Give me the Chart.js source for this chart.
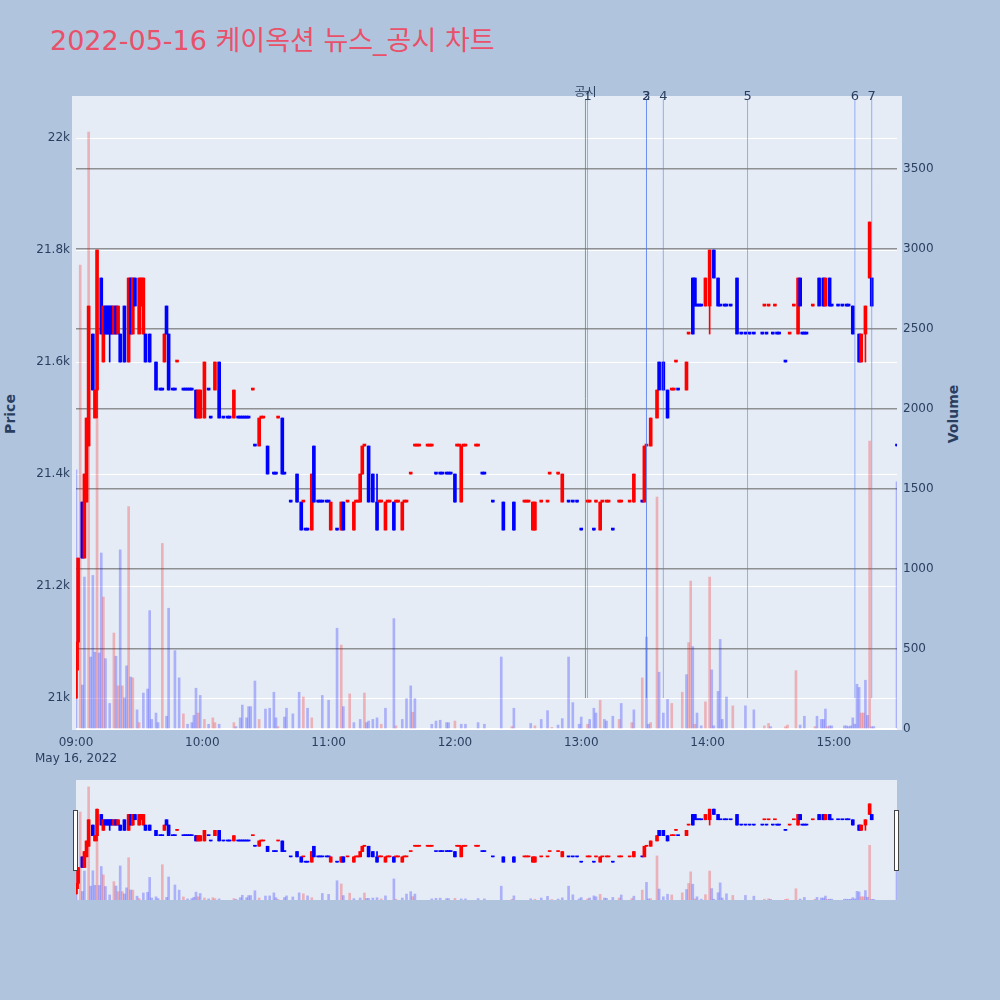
<!DOCTYPE html>
<html lang="ko">
<head>
<meta charset="utf-8">
<title>2022-05-16 케이옥션 뉴스_공시 차트</title>
<script src="https://cdn.jsdelivr.net/npm/chart.js@4.4.1/dist/chart.umd.min.js"></script>
<style>
  html, body { margin: 0; padding: 0; }
  body { width: 1000px; height: 1000px; background: #b0c4de; position: relative; overflow: hidden;
         font-family: "DejaVu Sans", "Noto Sans CJK KR", sans-serif; color: #2a3f5f; }
  #title { position: absolute; left: 50px; top: 27px; font-size: 27px; line-height: 27px; color: #e9506a; white-space: nowrap; }
  .ytitle { position: absolute; font-size: 14px; font-weight: bold; white-space: nowrap; transform: translate(-50%, -50%) rotate(-90deg); }
  #mainChart { position: absolute; left: 0; top: 0; }
  #rangeChart { position: absolute; left: 0; top: 780px; }
</style>
</head>
<body>
<div id="title">2022-05-16 케이옥션 뉴스_공시 차트</div>
<div class="ytitle" style="left:10px; top:414px;">Price</div>
<div class="ytitle" style="left:953px; top:414px;">Volume</div>
<canvas id="mainChart" width="1000" height="780"></canvas>
<canvas id="rangeChart" width="1000" height="120"></canvas>
<script>
// ---- 분봉 (minutes after 09:00) ----
const candleMin = [
  0, 1, 3, 4, 5, 6, 8, 9, 10, 12,
  13, 14, 15, 16, 17, 18, 19, 20, 21, 23,
  25, 26, 27, 28, 30, 31, 32, 33, 35, 38,
  40, 41, 42, 43, 44, 46, 47, 48, 51, 52,
  53, 54, 55, 57, 58, 59, 61, 63, 64, 66,
  68, 70, 72, 73, 75, 77, 78, 79, 80, 81,
  82, 84, 85, 87, 88, 89, 91, 94, 95, 96,
  98, 99, 102, 105, 107, 108, 109, 110, 112, 113,
  115, 116, 117, 119, 120, 121, 124, 126, 127, 129,
  132, 133, 134, 135, 136, 137, 139, 141, 143, 144,
  145, 147, 148, 149, 151, 152, 153, 155, 156, 157,
  159, 161, 162, 163, 167, 168, 169, 171, 173, 174,
  176, 177, 178, 180, 181, 182, 183, 184, 185, 190,
  191, 193, 194, 198, 203, 208, 213, 214, 215, 217,
  218, 221, 224, 225, 229, 231, 234, 236, 238, 240,
  243, 244, 246, 247, 249, 250, 252, 253, 255, 258,
  259, 263, 265, 269, 270, 271, 273, 276, 277, 279,
  281, 283, 284, 285, 286, 290, 291, 293, 294, 295,
  296, 297, 299, 301, 303, 305, 306, 308, 309, 311,
  314, 316, 318, 320, 322, 326, 327, 328, 329, 331,
  332, 333, 334, 337, 339, 341, 343, 344, 345, 346,
  347, 350, 353, 355, 356, 358, 359, 362, 364, 366,
  367, 369, 372, 373, 375, 377, 378, 390
];
const candleOpen = [
  21000, 21100, 21350, 21250, 21350, 21450, 21650, 21500, 21550, 21750,
  21600, 21700, 21700, 21700, 21700, 21650, 21700, 21650, 21650, 21700,
  21600, 21750, 21650, 21750, 21650, 21700, 21650, 21650, 21650, 21600,
  21550, 21550, 21600, 21700, 21650, 21550, 21550, 21600, 21550, 21550,
  21550, 21550, 21550, 21550, 21500, 21500, 21500, 21550, 21500, 21550,
  21600, 21500, 21500, 21500, 21500, 21500, 21500, 21500, 21500, 21500,
  21500, 21550, 21450, 21450, 21500, 21500, 21450, 21400, 21400, 21500,
  21500, 21400, 21350, 21400, 21350, 21350, 21300, 21300, 21300, 21450,
  21350, 21350, 21350, 21350, 21350, 21300, 21300, 21300, 21350, 21350,
  21300, 21350, 21350, 21350, 21400, 21450, 21450, 21400, 21350, 21350,
  21350, 21300, 21350, 21350, 21350, 21350, 21350, 21300, 21350, 21350,
  21400, 21450, 21450, 21450, 21450, 21450, 21450, 21400, 21400, 21400,
  21400, 21400, 21400, 21400, 21450, 21450, 21350, 21450, 21450, 21450,
  21450, 21400, 21400, 21350, 21350, 21350, 21350, 21350, 21350, 21300,
  21300, 21350, 21350, 21400, 21400, 21350, 21350, 21350, 21350, 21300,
  21350, 21350, 21300, 21350, 21300, 21350, 21350, 21350, 21300, 21350,
  21350, 21350, 21350, 21350, 21350, 21450, 21450, 21500, 21600, 21600,
  21550, 21550, 21550, 21600, 21550, 21550, 21650, 21750, 21750, 21700,
  21700, 21700, 21700, 21700, 21800, 21750, 21700, 21700, 21700, 21700,
  21750, 21650, 21650, 21650, 21650, 21650, 21700, 21650, 21700, 21650,
  21700, 21650, 21650, 21600, 21650, 21700, 21650, 21750, 21650, 21650,
  21650, 21700, 21750, 21750, 21700, 21750, 21700, 21700, 21700, 21700,
  21700, 21700, 21650, 21600, 21650, 21750, 21750, 21450
];
const candleHigh = [
  21100, 21250, 21350, 21400, 21500, 21700, 21650, 21550, 21800, 21750,
  21700, 21700, 21700, 21700, 21700, 21700, 21700, 21700, 21650, 21700,
  21750, 21750, 21750, 21750, 21750, 21750, 21750, 21650, 21650, 21600,
  21550, 21550, 21650, 21700, 21650, 21550, 21550, 21600, 21550, 21550,
  21550, 21550, 21550, 21550, 21550, 21550, 21600, 21550, 21500, 21600,
  21600, 21500, 21500, 21500, 21550, 21500, 21500, 21500, 21500, 21500,
  21500, 21550, 21450, 21500, 21500, 21500, 21450, 21400, 21400, 21500,
  21500, 21400, 21350, 21400, 21350, 21350, 21300, 21300, 21400, 21450,
  21350, 21350, 21350, 21350, 21350, 21350, 21300, 21350, 21350, 21350,
  21350, 21350, 21350, 21400, 21450, 21450, 21450, 21400, 21400, 21350,
  21350, 21350, 21350, 21350, 21350, 21350, 21350, 21350, 21350, 21350,
  21400, 21450, 21450, 21450, 21450, 21450, 21450, 21400, 21400, 21400,
  21400, 21400, 21400, 21400, 21450, 21450, 21450, 21450, 21450, 21450,
  21450, 21400, 21400, 21350, 21350, 21350, 21350, 21350, 21350, 21350,
  21350, 21350, 21350, 21400, 21400, 21400, 21350, 21350, 21350, 21300,
  21350, 21350, 21300, 21350, 21350, 21350, 21350, 21350, 21300, 21350,
  21350, 21350, 21400, 21350, 21450, 21450, 21500, 21550, 21600, 21600,
  21550, 21550, 21550, 21600, 21550, 21600, 21650, 21750, 21750, 21700,
  21700, 21700, 21750, 21800, 21800, 21750, 21700, 21700, 21700, 21700,
  21750, 21650, 21650, 21650, 21650, 21650, 21700, 21650, 21700, 21650,
  21700, 21650, 21650, 21600, 21650, 21700, 21750, 21750, 21650, 21650,
  21650, 21700, 21750, 21750, 21750, 21750, 21700, 21700, 21700, 21700,
  21700, 21700, 21650, 21650, 21700, 21850, 21750, 21450
];
const candleLow = [
  21000, 21050, 21250, 21250, 21350, 21450, 21550, 21500, 21500, 21650,
  21600, 21650, 21650, 21600, 21650, 21650, 21650, 21650, 21600, 21600,
  21600, 21650, 21650, 21700, 21650, 21700, 21650, 21600, 21600, 21550,
  21550, 21550, 21600, 21650, 21550, 21550, 21550, 21600, 21550, 21550,
  21550, 21550, 21550, 21500, 21500, 21500, 21500, 21550, 21500, 21550,
  21500, 21500, 21500, 21500, 21500, 21500, 21500, 21500, 21500, 21500,
  21500, 21550, 21450, 21450, 21500, 21500, 21400, 21400, 21400, 21500,
  21400, 21400, 21350, 21350, 21300, 21350, 21300, 21300, 21300, 21350,
  21350, 21350, 21350, 21350, 21350, 21300, 21300, 21300, 21300, 21350,
  21300, 21350, 21350, 21350, 21400, 21450, 21350, 21350, 21300, 21350,
  21350, 21300, 21350, 21350, 21300, 21350, 21350, 21300, 21350, 21350,
  21400, 21450, 21450, 21450, 21450, 21450, 21450, 21400, 21400, 21400,
  21400, 21400, 21400, 21350, 21450, 21450, 21350, 21450, 21450, 21450,
  21450, 21400, 21400, 21350, 21300, 21300, 21350, 21350, 21350, 21300,
  21300, 21350, 21350, 21400, 21400, 21350, 21350, 21350, 21350, 21300,
  21350, 21350, 21300, 21350, 21300, 21350, 21350, 21350, 21300, 21350,
  21350, 21350, 21350, 21350, 21350, 21450, 21450, 21500, 21550, 21550,
  21500, 21550, 21550, 21600, 21550, 21550, 21650, 21650, 21700, 21700,
  21700, 21700, 21700, 21650, 21750, 21700, 21700, 21700, 21700, 21700,
  21650, 21650, 21650, 21650, 21650, 21650, 21700, 21650, 21700, 21650,
  21700, 21650, 21650, 21600, 21650, 21700, 21650, 21700, 21650, 21650,
  21650, 21700, 21700, 21700, 21700, 21700, 21700, 21700, 21700, 21700,
  21700, 21650, 21600, 21600, 21600, 21750, 21700, 21450
];
const candleClose = [
  21100, 21250, 21250, 21400, 21500, 21700, 21550, 21550, 21800, 21650,
  21700, 21650, 21650, 21650, 21650, 21700, 21650, 21700, 21600, 21600,
  21750, 21650, 21750, 21700, 21750, 21750, 21750, 21600, 21600, 21550,
  21550, 21550, 21650, 21650, 21550, 21550, 21550, 21600, 21550, 21550,
  21550, 21550, 21550, 21500, 21550, 21550, 21600, 21550, 21500, 21600,
  21500, 21500, 21500, 21500, 21550, 21500, 21500, 21500, 21500, 21500,
  21500, 21550, 21450, 21500, 21500, 21500, 21400, 21400, 21400, 21500,
  21400, 21400, 21350, 21350, 21300, 21350, 21300, 21300, 21400, 21350,
  21350, 21350, 21350, 21350, 21350, 21350, 21300, 21350, 21300, 21350,
  21350, 21350, 21350, 21400, 21450, 21450, 21350, 21350, 21300, 21350,
  21350, 21350, 21350, 21350, 21300, 21350, 21350, 21350, 21350, 21350,
  21400, 21450, 21450, 21450, 21450, 21450, 21450, 21400, 21400, 21400,
  21400, 21400, 21400, 21350, 21450, 21450, 21450, 21450, 21450, 21450,
  21450, 21400, 21400, 21350, 21300, 21300, 21350, 21350, 21350, 21350,
  21350, 21350, 21350, 21400, 21400, 21400, 21350, 21350, 21350, 21300,
  21350, 21350, 21300, 21350, 21350, 21350, 21350, 21350, 21300, 21350,
  21350, 21350, 21400, 21350, 21450, 21450, 21500, 21550, 21550, 21550,
  21500, 21550, 21550, 21600, 21550, 21600, 21650, 21650, 21700, 21700,
  21700, 21700, 21750, 21800, 21750, 21700, 21700, 21700, 21700, 21700,
  21650, 21650, 21650, 21650, 21650, 21650, 21700, 21650, 21700, 21650,
  21700, 21650, 21650, 21600, 21650, 21700, 21750, 21700, 21650, 21650,
  21650, 21700, 21700, 21700, 21750, 21700, 21700, 21700, 21700, 21700,
  21700, 21650, 21600, 21650, 21700, 21850, 21700, 21450
];

// ---- 거래량 (1 = 빨강, -1 = 파랑) ----
const volMin = [
  0, 2, 3, 4, 6, 7, 8, 9, 10, 11,
  12, 13, 14, 16, 18, 19, 20, 21, 22, 23,
  24, 25, 26, 27, 29, 30, 32, 34, 35, 36,
  38, 39, 41, 43, 44, 47, 49, 51, 53, 55,
  56, 57, 58, 59, 61, 63, 65, 66, 68, 75,
  76, 78, 79, 81, 82, 83, 85, 87, 90, 92,
  94, 95, 96, 99, 100, 103, 106, 108, 110, 112,
  117, 120, 124, 126, 127, 130, 132, 135, 137, 138,
  139, 141, 143, 145, 147, 151, 152, 155, 157, 159,
  160, 161, 169, 171, 173, 176, 177, 180, 183, 185,
  191, 194, 202, 207, 208, 216, 218, 221, 224, 226,
  229, 231, 234, 236, 239, 240, 243, 244, 246, 247,
  249, 251, 252, 255, 258, 259, 264, 265, 269, 271,
  272, 273, 276, 277, 279, 281, 283, 288, 290, 291,
  292, 293, 294, 295, 297, 299, 301, 302, 303, 305,
  306, 307, 309, 312, 318, 322, 327, 329, 330, 337,
  338, 342, 344, 346, 351, 352, 354, 355, 356, 357,
  358, 359, 365, 366, 367, 368, 369, 370, 371, 372,
  373, 374, 375, 376, 377, 378, 379, 390
];
const volAmt = [
  1620, 2900, 275, 950, 3730, 450, 960, 480, 2800, 475,
  1100, 825, 440, 160, 600, 455, 270, 1120, 270, 195,
  395, 1390, 325, 320, 120, 40, 225, 250, 740, 60,
  100, 40, 1160, 80, 755, 490, 320, 95, 30, 40,
  85, 255, 100, 210, 60, 30, 70, 40, 30, 40,
  15, 70, 150, 70, 140, 140, 300, 60, 125, 130,
  230, 70, 15, 75, 130, 95, 230, 200, 130, 70,
  210, 180, 630, 525, 140, 220, 40, 60, 225, 40,
  50, 60, 70, 30, 130, 690, 20, 60, 190, 270,
  105, 190, 30, 50, 55, 40, 40, 50, 30, 30,
  40, 30, 450, 15, 130, 35, 20, 60, 115, 10,
  25, 65, 450, 165, 30, 75, 30, 60, 130, 100,
  180, 60, 50, 80, 60, 160, 40, 120, 320, 575,
  30, 40, 1450, 355, 100, 185, 160, 230, 340, 540,
  925, 515, 30, 100, 20, 170, 950, 370, 20, 235,
  560, 60, 200, 145, 145, 120, 20, 35, 15, 15,
  25, 365, 25, 80, 15, 80, 60, 60, 125, 15,
  20, 20, 20, 20, 15, 20, 70, 30, 280, 260,
  100, 100, 305, 85, 1800, 15, 15, 1545
];
const volDir = [
  -1, 1, -1, -1, 1, -1, -1, -1, 1, -1,
  -1, 1, -1, -1, 1, -1, 1, -1, 1, -1,
  -1, 1, -1, 1, -1, 1, -1, -1, -1, -1,
  -1, -1, 1, -1, -1, -1, -1, 1, -1, -1,
  -1, -1, 1, -1, 1, -1, 1, 1, -1, 1,
  -1, -1, -1, -1, -1, -1, -1, 1, -1, -1,
  -1, -1, 1, -1, -1, -1, -1, 1, -1, 1,
  -1, -1, -1, 1, -1, 1, -1, -1, 1, -1,
  -1, -1, -1, 1, -1, -1, 1, -1, -1, -1,
  1, -1, -1, -1, -1, -1, -1, 1, -1, -1,
  -1, -1, -1, 1, -1, -1, 1, -1, -1, 1,
  -1, -1, -1, -1, -1, -1, 1, -1, -1, -1,
  1, -1, -1, -1, 1, -1, 1, -1, 1, -1,
  -1, 1, 1, -1, -1, -1, 1, 1, -1, 1,
  1, -1, 1, -1, -1, 1, 1, -1, -1, -1,
  -1, -1, -1, 1, -1, -1, 1, 1, -1, 1,
  1, 1, -1, -1, 1, -1, -1, -1, -1, 1,
  -1, -1, -1, -1, -1, -1, -1, -1, -1, -1,
  1, 1, -1, -1, 1, -1, -1, -1
];

// ---- 공시 ----
const noticeHeadTime = '13:02';
const noticeHeadLabel = '공시';
const noticeTimes = ['13:03', '13:31', '13:31', '13:39', '14:19', '15:10', '15:18'];
const noticeLabels = ['1', '2', '3', '4', '5', '6', '7'];
const noticeBasePrice = 21000;

// ---- axes ----
const hourTicks = ['09:00', '10:00', '11:00', '12:00', '13:00', '14:00', '15:00'];
const dateLabel = 'May 16, 2022';
const priceTicks = [21000, 21200, 21400, 21600, 21800, 22000];
const priceTickLabels = ['21k', '21.2k', '21.4k', '21.6k', '21.8k', '22k'];
const volTicks = [0, 500, 1000, 1500, 2000, 2500, 3000, 3500];

const toMin = t => { const p = t.split(':').map(Number); return (p[0] - 9) * 60 + p[1]; };

const UP = '#ff0000', DOWN = '#0000ff';
const TEXT = '#2a3f5f';
Chart.defaults.font.family = '"DejaVu Sans", sans-serif';
Chart.defaults.font.size = 12;
Chart.defaults.color = TEXT;

// candle colour like plotly: flat candle compares to previous close
const candleDir = [];
let prevDir = 1, prevClose = null;
candleMin.forEach((m, i) => {
  const o = candleOpen[i], c = candleClose[i];
  let d;
  if (c > o) d = 1;
  else if (c < o) d = -1;
  else d = (prevClose === null || c === prevClose) ? prevDir : (c > prevClose ? 1 : -1);
  candleDir.push(d);
  prevDir = d;
  prevClose = c;
});

function makeSets(bodyW, wickW, volW, minLen) {
  const col = candleDir.map(d => d > 0 ? UP : DOWN);
  return [
    {
      label: 'body', yAxisID: 'y', order: 1, grouped: false,
      data: candleMin.map((m, i) => ({ x: m, y: [candleOpen[i], candleClose[i]] })),
      backgroundColor: col, barThickness: bodyW, minBarLength: minLen
    },
    {
      label: 'wick', yAxisID: 'y', order: 2, grouped: false,
      data: candleMin.map((m, i) => ({ x: m, y: [candleLow[i], candleHigh[i]] })),
      backgroundColor: col, barThickness: wickW
    },
    {
      label: 'volume', yAxisID: 'yv', order: 3, grouped: false,
      data: volMin.map((m, i) => ({ x: m, y: volAmt[i] })),
      backgroundColor: volDir.map(d => d > 0 ? 'rgba(255,0,0,0.25)' : 'rgba(0,0,255,0.25)'),
      barThickness: volW
    }
  ];
}

const plotBg = {
  id: 'plotBg',
  beforeDraw(chart, args, opts) {
    const { ctx, chartArea: a } = chart;
    ctx.save();
    ctx.fillStyle = '#e5ecf6';
    ctx.fillRect(a.left - opts.padL, a.top, a.right - a.left + opts.padL + opts.padR, a.bottom - a.top);
    ctx.restore();
  }
};

const noticeLines = {
  id: 'noticeLines',
  afterDatasetsDraw(chart) {
    const { ctx, chartArea: a, scales } = chart;
    const yBase = scales.y.getPixelForValue(noticeBasePrice);
    const top = a.top + 3;
    ctx.save();
    // header line
    let x = scales.x.getPixelForValue(toMin(noticeHeadTime));
    ctx.strokeStyle = 'rgba(60,150,60,0.75)';
    ctx.lineWidth = 1;
    ctx.beginPath(); ctx.moveTo(x, yBase); ctx.lineTo(x, top); ctx.stroke();
    ctx.fillStyle = TEXT;
    ctx.textAlign = 'center';
    ctx.textBaseline = 'middle';
    ctx.font = '12px "Noto Sans CJK KR", sans-serif';
    ctx.fillText(noticeHeadLabel, x, a.top - 5);
    ctx.strokeStyle = 'rgba(80,120,240,0.55)';
    ctx.font = '13px "DejaVu Sans", sans-serif';
    noticeTimes.forEach((t, i) => {
      x = scales.x.getPixelForValue(toMin(t));
      ctx.beginPath(); ctx.moveTo(x, yBase); ctx.lineTo(x, top); ctx.stroke();
      ctx.fillText(noticeLabels[i], x, a.top + 1);
    });
    ctx.restore();
  }
};

const grabbers = {
  id: 'grabbers',
  afterDraw(chart) {
    const { ctx, chartArea: a } = chart;
    ctx.save();
    ctx.fillStyle = '#ffffff';
    ctx.strokeStyle = '#444444';
    ctx.lineWidth = 1;
    [a.left - 2.5, a.right - 2.5].forEach(x => {
      ctx.fillRect(x, 30.5, 4, 60);
      ctx.strokeRect(x, 30.5, 4, 60);
    });
    ctx.restore();
  }
};

new Chart(document.getElementById('mainChart'), {
  type: 'bar',
  data: { datasets: makeSets(3, 1, 2, 2) },
  plugins: [plotBg, noticeLines],
  options: {
    responsive: false,
    animation: false,
    events: [],
    layout: { padding: { top: 96, left: 0, right: 0, bottom: 0 } },
    plugins: { legend: { display: false }, tooltip: { enabled: false }, plotBg: { padL: 4, padR: 5 } },
    scales: {
      x: {
        type: 'linear', min: 0, max: 390, offset: false,
        grid: { display: false }, border: { display: false },
        afterBuildTicks: s => { s.ticks = hourTicks.map(t => ({ value: toMin(t) })); },
        afterFit: s => { s.height = 50; },
        ticks: {
          autoSkip: false, maxRotation: 0, padding: -3,
          font: { size: 12, lineHeight: 1.3 },
          callback: v => {
            const i = hourTicks.findIndex(t => toMin(t) === v);
            return i === 0 ? [hourTicks[0], dateLabel] : hourTicks[i];
          }
        }
      },
      y: {
        position: 'left', min: 20943, max: 22075,
        grid: { color: '#ffffff', lineWidth: 1, drawTicks: false }, border: { display: false },
        afterBuildTicks: s => { s.ticks = priceTicks.map(v => ({ value: v })); },
        afterFit: s => { s.width = 76; },
        ticks: { padding: 6, callback: v => priceTickLabels[priceTicks.indexOf(v)] }
      },
      yv: {
        position: 'right', min: -6, max: 3956,
        grid: {
          color: c => (c.tick && c.tick.value === 0) ? '#ffffff' : 'rgba(105,105,105,0.7)',
          lineWidth: c => (c.tick && c.tick.value === 0) ? 2 : 1.5,
          drawTicks: false
        },
        border: { display: false },
        afterBuildTicks: s => { s.ticks = volTicks.map(v => ({ value: v })); },
        afterFit: s => { s.width = 103; },
        ticks: { padding: 6, callback: v => String(v) }
      }
    }
  }
});

// range slider
new Chart(document.getElementById('rangeChart'), {
  type: 'bar',
  data: { datasets: makeSets(3, 1, 2, 1) },
  plugins: [plotBg, grabbers],
  options: {
    responsive: false,
    animation: false,
    events: [],
    layout: { padding: { top: 0, left: 76, right: 103, bottom: 0 } },
    plugins: { legend: { display: false }, tooltip: { enabled: false }, plotBg: { padL: 0, padR: 0 } },
    scales: {
      x: { type: 'linear', min: 0, max: 390, offset: false, display: false },
      y: { min: 20943, max: 22075, display: false },
      yv: { min: -6, max: 3956, display: false }
    }
  }
});
</script>
</body>
</html>
